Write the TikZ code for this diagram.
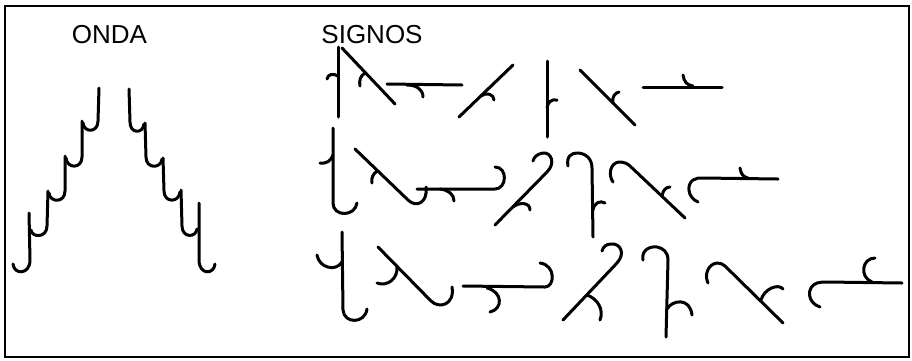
\documentclass[tikz,border=0pt]{standalone}
\usepackage{fontspec}
\setmainfont{Liberation Sans}
\begin{document}
\begin{tikzpicture}[x=1pt,y=-1pt,
  glyph/.style={line width=3pt,line cap=round,line join=round},
  frame/.style={line width=2pt},
  title/.style={anchor=base,inner sep=0pt,font=\fontsize{26}{30}\selectfont}]
\useasboundingbox (0,0) rectangle (912,360);
\draw[frame] (5,6) rectangle (909,357);
\node[title] (onda) at (109.5,43) {ONDA};
\node[title] (signos) at (372,43) {SIGNOS};
% ---- ONDA wave, left half
\draw[glyph] (99,88) -- (98,121) .. controls (98,133) and (84,133) .. (83,123);
\draw[glyph] (82,121) -- (82,157) .. controls (82,169) and (67,169) .. (66,158);
\draw[glyph] (65,156) -- (65,191) .. controls (65,203) and (50,203) .. (49,193);
\draw[glyph] (48,191) -- (47,226) .. controls (47,238) and (32,238) .. (31,230);
\draw[glyph] (29,213) -- (30,260) .. controls (30,275) and (14,275) .. (13,264);
% ---- ONDA wave, right half
\draw[glyph] (129,89) -- (130,122) .. controls (130,134) and (143,134) .. (144,124);
\draw[glyph] (145,123) -- (146,157) .. controls (146,169) and (161,169) .. (162,159);
\draw[glyph] (163,158) -- (164,191) .. controls (164,203) and (179,203) .. (180,192);
\draw[glyph] (181,190) -- (182,226) .. controls (182,238) and (196,238) .. (197,229);
\draw[glyph] (199,203) -- (199,260) .. controls (199,275) and (214,275) .. (215,264);
% ---- SIGNOS row 1
\draw[glyph] (338,47) -- (338,117);
\draw[glyph] (327,79) .. controls (328,74) and (333,73) .. (338,76);
\draw[glyph] (342,48) -- (395,104);
\draw[glyph] (365,73) .. controls (360,76) and (359,81) .. (360,86);
\draw[glyph] (387,84) -- (462,85);
\draw[glyph] (407,85) .. controls (416,85) and (423,89) .. (423,97);
\draw[glyph] (459,117) -- (513,65);
\draw[glyph] (481,96) .. controls (486,92) and (494,94) .. (494,100);
\draw[glyph] (547,61) -- (547,137);
\draw[glyph] (547,108) .. controls (548,102) and (551,99) .. (557,100);
\draw[glyph] (580,70) -- (635,125);
\draw[glyph] (613,103) .. controls (612,96) and (615,93) .. (619,92);
\draw[glyph] (643,87) -- (722,87);
\draw[glyph] (683,75) .. controls (684,82) and (687,85) .. (693,86);
% ---- SIGNOS row 2
\draw[glyph] (333,128) -- (333,203) .. controls (333,217) and (355,217) .. (357,203);
\draw[glyph] (320,163) .. controls (326,164) and (331,161) .. (333,155);
\draw[glyph] (355,149) -- (408,200) .. controls (416,208) and (428,203) .. (426,187);
\draw[glyph] (377,171) .. controls (373,174) and (371,178) .. (372,183);
\draw[glyph] (417,189) -- (495,189) .. controls (507,189) and (508,167) .. (495,167);
\draw[glyph] (440,189) .. controls (448,190) and (454,194) .. (454,201);
\draw[glyph] (495,225) -- (547,172) .. controls (556,163) and (551,152) .. (543,153) .. controls (537,154) and (534,157) .. (533,161);
\draw[glyph] (513,207) .. controls (519,202) and (530,202) .. (530,210);
\draw[glyph] (568,166) .. controls (566,156) and (572,153) .. (577,153) .. controls (585,153) and (592,158) .. (592,168) -- (593,237);
\draw[glyph] (593,210) .. controls (594,203) and (600,200) .. (605,203);
\draw[glyph] (613,182) .. controls (608,175) and (610,163) .. (619,162) .. controls (623,162) and (627,163) .. (630,166) -- (685,218);
\draw[glyph] (662,196) .. controls (663,190) and (666,187) .. (670,187);
\draw[glyph] (698,202) .. controls (688,198) and (686,185) .. (693,180) .. controls (696,178) and (699,178) .. (703,178) -- (778,179);
\draw[glyph] (740,168) .. controls (741,174) and (743,177) .. (748,178);
% ---- SIGNOS row 3
\draw[glyph] (342,232) -- (343,310) .. controls (344,324) and (365,324) .. (367,309);
\draw[glyph] (317,255) .. controls (319,268) and (336,272) .. (342,262);
\draw[glyph] (378,247) -- (431,301) .. controls (439,309) and (455,305) .. (452,287);
\draw[glyph] (397,267) .. controls (398,278) and (388,287) .. (377,283);
\draw[glyph] (463,286) -- (545,287) .. controls (555,287) and (556,265) .. (540,263);
\draw[glyph] (487,288) .. controls (503,292) and (503,309) .. (490,312);
\draw[glyph] (563,320) -- (617,263) .. controls (626,253) and (620,243) .. (611,244) .. controls (606,244) and (603,247) .. (602,251);
\draw[glyph] (587,295) .. controls (598,299) and (604,310) .. (600,320);
\draw[glyph] (643,260) .. controls (641,250) and (650,246) .. (657,247) .. controls (663,248) and (668,252) .. (668,260) -- (666,337);
\draw[glyph] (667,309) .. controls (672,300) and (690,297) .. (692,315);
\draw[glyph] (708,283) .. controls (704,275) and (708,264) .. (717,263) .. controls (720,263) and (723,264) .. (725,266) -- (783,323);
\draw[glyph] (761,300) .. controls (764,289) and (778,283) .. (783,289);
\draw[glyph] (820,307) .. controls (807,303) and (806,287) .. (817,283) .. controls (820,282) and (824,282) .. (826,282) -- (902,283);
\draw[glyph] (875,258) .. controls (862,258) and (859,277) .. (872,282);
\end{tikzpicture}
\end{document}
